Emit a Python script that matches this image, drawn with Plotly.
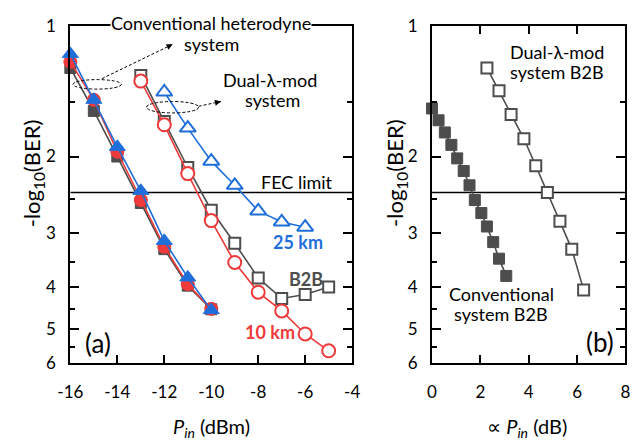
import numpy as np
import plotly.graph_objects as go

# ---------------- data ----------------
x_conv = [-16, -15, -14, -13, -12, -11, -10]
conv_b2b = [1.25, 1.57, 2.00, 2.56, 3.27, 3.97, 4.50]
conv_10km = [1.21, 1.48, 1.95, 2.52, 3.23, 3.94, 4.49]
conv_25km = [1.16, 1.48, 1.90, 2.40, 3.13, 3.80, 4.52]

x_dual = [-13, -12, -11, -10, -9, -8, -7, -6, -5]
dual_b2b = [1.30, 1.66, 2.12, 2.66, 3.17, 3.81, 4.25, 4.16, 4.00]
dual_10km = [1.34, 1.69, 2.19, 2.81, 3.51, 4.11, 4.54, 5.13, 5.61]
x_dual25 = [-12, -11, -10, -9, -8, -7, -6]
dual_25km = [1.42, 1.72, 2.05, 2.33, 2.67, 2.83, 2.91]

bx_conv = [0, 0.27, 0.53, 0.80, 1.04, 1.31, 1.55, 1.77, 2.04, 2.27, 2.53, 2.77, 3.07]
b_conv = [1.55, 1.65, 1.76, 1.88, 2.02, 2.16, 2.33, 2.52, 2.70, 2.90, 3.15, 3.44, 3.77]
bx_dual = [2.27, 2.77, 3.27, 3.80, 4.29, 4.77, 5.29, 5.78, 6.27]
b_dual = [1.25, 1.41, 1.60, 1.82, 2.10, 2.42, 2.82, 3.27, 4.06]

fec_limit = 2.42
xa_ticks = [-16, -14, -12, -10, -8, -6, -4]
xb_ticks = [0, 2, 4, 6, 8]
y_ticks = [1, 2, 3, 4, 5, 6]
y_minor = [1.5, 2.5, 3.5, 4.5, 5.5]

# ---------------- style ----------------
W, H = 638, 443
FONT = "Lato"
GRAY = "#4D4D4D"
RED = "#EE3A3A"
BLUE = "#1F6FDB"

def px(x):
    return x / W

def py(y):
    return 1 - y / H

fig = go.Figure()

def add(x, y, color, symbol, size, xa="x", ya="y", hollow=False):
    fig.add_trace(go.Scatter(
        x=x, y=y, xaxis=xa, yaxis=ya, mode="lines+markers",
        line=dict(color=color, width=1.6),
        marker=dict(symbol=symbol, size=size,
                    color="white" if hollow else color,
                    line=dict(color=color, width=2 if hollow else 1)),
        showlegend=False, cliponaxis=False))

# FEC lines
fig.add_trace(go.Scatter(x=[-16, -4], y=[fec_limit, fec_limit], mode="lines",
                         line=dict(color="black", width=1.5), showlegend=False,
                         xaxis="x", yaxis="y"))
fig.add_trace(go.Scatter(x=[0, 8], y=[fec_limit, fec_limit], mode="lines",
                         line=dict(color="black", width=1.5), showlegend=False,
                         xaxis="x2", yaxis="y2"))

# panel (a)
add(x_dual, dual_b2b, GRAY, "square", 11, hollow=True)
add(x_dual, dual_10km, RED, "circle", 13, hollow=True)
add(x_dual25, dual_25km, BLUE, "triangle-up", 14, hollow=True)
add(x_conv, conv_b2b, GRAY, "square", 11)
add(x_conv, conv_10km, RED, "circle", 13)
add(x_conv, conv_25km, BLUE, "triangle-up", 14)

# panel (b)
add(bx_conv, b_conv, GRAY, "square", 11, "x2", "y2")
add(bx_dual, b_dual, GRAY, "square", 11, "x2", "y2", hollow=True)

top, bot = 15.7, 370.0
ax_common = dict(showline=True, linewidth=2, linecolor="black", mirror="allticks",
                 ticks="inside", tickwidth=1.5, tickcolor="black", showgrid=False,
                 zeroline=False, tickfont=dict(family=FONT, size=17, color="black"))
ymin = dict(tickvals=y_minor, ticklen=5, ticks="inside", tickwidth=1.5,
            tickcolor="black", showgrid=False)
fig.update_layout(
    width=W, height=H, margin=dict(l=0, r=0, t=0, b=0),
    paper_bgcolor="white", plot_bgcolor="white",
    font=dict(family=FONT, size=18, color="black"),
    xaxis=dict(domain=[px(59.3), px(350.7)], range=[-16, -4], tickvals=xa_ticks,
               ticktext=[str(v) for v in xa_ticks],
               ticklen=8, ticklabelstandoff=12, anchor="y", **ax_common),
    yaxis=dict(domain=[py(bot), py(top)], type="log", range=[np.log10(6), 0],
               tickvals=y_ticks, ticktext=[str(v) for v in y_ticks], ticklen=9,
               minor=ymin, ticklabelstandoff=9, anchor="x", **ax_common),
    xaxis2=dict(domain=[px(433.3), px(633.3)], range=[0, 8], tickvals=xb_ticks,
                ticktext=[str(v) for v in xb_ticks],
                ticklen=8, ticklabelstandoff=12, anchor="y2", **ax_common),
    yaxis2=dict(domain=[py(bot), py(top)], type="log", range=[np.log10(6), 0],
                tickvals=y_ticks, ticktext=[str(v) for v in y_ticks], ticklen=9,
                minor=ymin, ticklabelstandoff=9, anchor="x2", **ax_common),
)

def text(x, y, t, size=18, color="black", bg=None, angle=0):
    fig.add_annotation(x=px(x), y=py(y), xref="paper", yref="paper", text=t,
                       showarrow=False, font=dict(family=FONT, size=size, color=color),
                       bgcolor=bg, textangle=angle, xanchor="center", yanchor="middle",
                       borderpad=0)

text(205, 13, "Conventional heterodyne", bg="white")
text(205, 35, "system")
text(266, 72, "Dual-λ-mod")
text(268, 93, "system")
text(294, 180, "FEC limit")
text(295, 242, "<b>25 km</b>", color=BLUE)
text(303, 281, "<b>B2B</b>", color=GRAY)
text(266, 337, "<b>10 km</b>", color=RED)
text(88, 348, "(a)", size=26)
text(607, 347, "(b)", size=26)
text(562, 43, "Dual-λ-mod")
text(562, 64, "system B2B")
text(505, 297, "Conventional")
text(505, 318, "system B2B")
text(21, 170, "-log<sub>10</sub>(BER)", size=22, angle=-90)
text(396, 170, "-log<sub>10</sub>(BER)", size=22, angle=-90)
text(205, 437, "<i>P<sub>in</sub></i> (dBm)", size=20)
text(532, 437, "∝ <i>P<sub>in</sub></i> (dB)", size=20)

# dashed ellipses and arrows
dash = dict(color="black", width=1, dash="3px,2px")
for cx, cy, rx, ry in [(87, 77, 25, 5), (165, 101, 27, 6)]:
    fig.add_shape(type="circle", xref="paper", yref="paper",
                  x0=px(cx - rx), x1=px(cx + rx), y0=py(cy + ry), y1=py(cy - ry), line=dash)
for (x0, y0), (x1, y1) in [((92, 71), (165, 35)), ((192, 100), (215, 95))]:
    fig.add_shape(type="line", xref="paper", yref="paper",
                  x0=px(x0), y0=py(y0), x1=px(x1), y1=py(y1), line=dash)
    d = np.hypot(x1 - x0, y1 - y0)
    ux, uy = (x1 - x0) / d, (y1 - y0) / d
    fig.add_annotation(x=px(x1), y=py(y1), xref="paper", yref="paper", text="",
                       showarrow=True, arrowhead=2, arrowsize=1, arrowwidth=1.2,
                       arrowcolor="black", ax=-ux * 6, ay=-uy * 6)

fig.write_html("out.html")
